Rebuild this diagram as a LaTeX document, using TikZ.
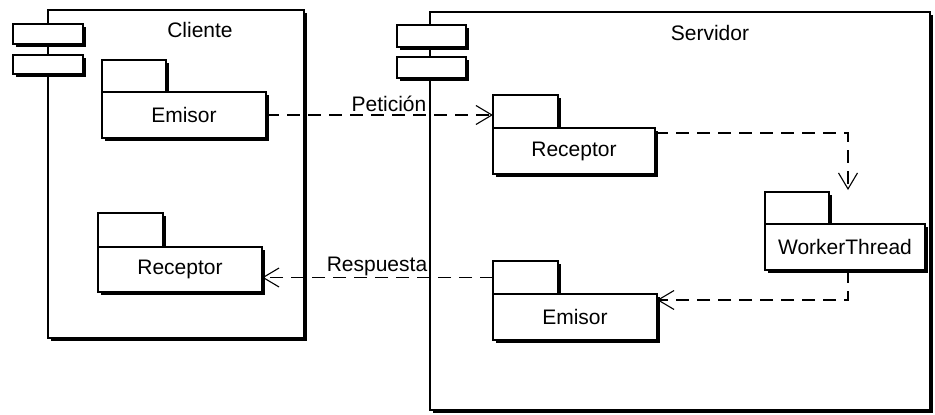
\documentclass[tikz,border=0pt]{standalone}
\usepackage{fontspec}
\setmainfont{Liberation Sans}
\usetikzlibrary{shadows,arrows.meta}
\begin{document}
\begin{tikzpicture}[x=1pt,y=-1pt,
  box/.style={draw, line width=1.2pt, fill=white, inner sep=0pt, outer sep=0pt, anchor=north west,
    drop shadow={opacity=1, shadow xshift=2.5pt, shadow yshift=-2.5pt, fill=black}},
  lbl/.style={font=\fontsize{21}{24}\selectfont},
  dep/.style={line width=1.1pt, dash pattern=on 13pt off 8pt,
    -{Straight Barb[length=16pt,width=19pt,line width=1.1pt]}}]
\useasboundingbox (0,0) rectangle (935,415);

% Cliente component
\node[box, minimum width=256pt, minimum height=328pt] (cli) at (48,10) {};
\node[box, minimum width=70pt, minimum height=20pt] (cli1) at (13,24) {};
\node[box, minimum width=70pt, minimum height=19pt] (cli2) at (13,55) {};
\node[lbl] (clit) at (200,30) {Cliente};

% Servidor component
\node[box, minimum width=500pt, minimum height=398pt] (srv) at (430,12) {};
\node[box, minimum width=69pt, minimum height=22pt] (srv1) at (397,25) {};
\node[box, minimum width=69pt, minimum height=21pt] (srv2) at (397,57) {};
\node[lbl] (srvt) at (710,33) {Servidor};

% Client packages
\node[box, minimum width=64pt, minimum height=32pt] (cet) at (102,60) {};
\node[box, lbl, minimum width=164pt, minimum height=46pt] (ce) at (102,92) {Emisor};
\node[box, minimum width=65pt, minimum height=34pt] (crt) at (98,213) {};
\node[box, lbl, minimum width=164pt, minimum height=45pt] (cr) at (98,247) {Receptor};

% Server packages
\node[box, minimum width=65pt, minimum height=33pt] (srt) at (493,95) {};
\node[box, lbl, minimum width=162pt, minimum height=46pt] (sr) at (493,128) {Receptor};
\node[box, minimum width=64pt, minimum height=32pt] (wt) at (765,192) {};
\node[box, lbl, minimum width=160pt, minimum height=46pt] (wb) at (765,224) {WorkerThread};
\node[box, minimum width=65pt, minimum height=33pt] (set) at (493,261) {};
\node[box, lbl, minimum width=164pt, minimum height=46pt] (se) at (493,294) {Emisor};

% Connectors
\coordinate (w1) at (848,190);
\draw[dep] (ce.east) -- (ce.east -| srt.west);
\node[lbl] (pet) at (389,104) {Petición};
\draw[dep] ([yshift=-5pt]sr.north east) -| (w1);
\draw[dep] (wb.south -| w1) |- ([yshift=-6pt]se.north east);
\draw[dep] (set.west) -- (set.west -| cr.east);
\node[lbl] (res) at (377,266) {Respuesta};
\end{tikzpicture}
\end{document}
